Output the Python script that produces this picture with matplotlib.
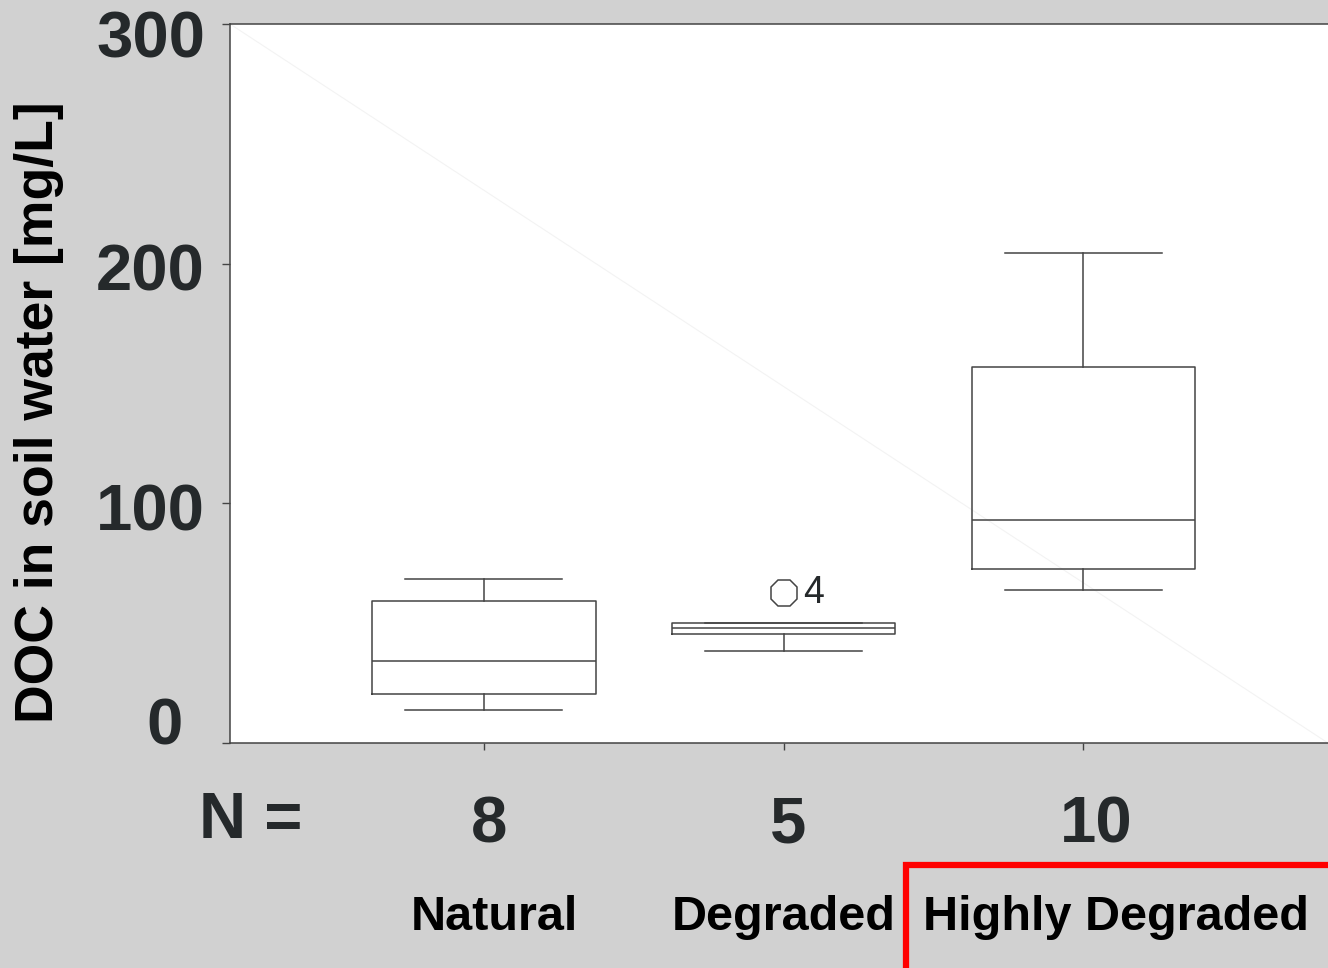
import matplotlib
matplotlib.use("Agg")
import matplotlib.pyplot as plt
import matplotlib.patches as mpatches
import matplotlib.transforms as mtransforms

# values (mg/L)
groups = ["Natural", "Degraded", "Highly Degraded"]
n_obs = ["8", "5", "10"]
whislo = [13.8, 38.5, 63.7]
q1 = [20.4, 45.5, 72.7]
medians = [34.2, 47.9, 93.2]
q3 = [59.1, 49.9, 156.9]
whishi = [68.3, 50.0, 204.4]
fliers = [[], [62.6], []]
flier_ids = ["", "4", ""]

BG = "#d1d1d1"
DARK = "#25292b"
FONT = ["Liberation Sans", "DejaVu Sans"]
plt.rcParams["font.family"] = FONT

fig = plt.figure(figsize=(13.28, 9.68), dpi=100, facecolor=BG)
ax = fig.add_axes([230 / 1328, 225 / 968, 1098 / 1328, 719 / 968])
ax.set_facecolor("white")

positions = [1, 2, 3]
stats = [dict(med=m, q1=a, q3=b, whislo=lo, whishi=hi, fliers=f)
         for m, a, b, lo, hi, f in zip(medians, q1, q3, whislo, whishi, fliers)]

line_kw = dict(color="#444444", linewidth=1.1)
ax.bxp(stats, positions=positions, widths=0.745, capwidths=0.524,
       boxprops=line_kw, whiskerprops=line_kw, capprops=line_kw,
       medianprops=line_kw,
       flierprops=dict(marker="8", markersize=21, markerfacecolor="white",
                       markeredgecolor="#444444", markeredgewidth=1.1))

# outlier case numbers
for pos, f, lab in zip(positions, fliers, flier_ids):
    for v in f:
        ax.text(pos + 0.065, v, lab, fontsize=27, color=DARK,
                ha="left", va="center")

# faint diagonal artefact
ax.plot([0, 1], [1, 0], transform=ax.transAxes, color="#f3f3f3",
        linewidth=0.8, zorder=0)

ax.set_xlim(0.1525, 3.8165)
ax.set_ylim(0, 300)
ax.set_yticks([0, 100, 200, 300])
ax.set_xticks(positions, n_obs)
for s in ["left", "top", "bottom"]:
    ax.spines[s].set_color("#444444")
    ax.spines[s].set_linewidth(1.1)
ax.spines["right"].set_visible(False)
ax.tick_params(axis="y", direction="out", length=6, width=1, color="#444444",
               pad=12, labelsize=47, labelcolor=DARK)
ax.tick_params(axis="x", direction="out", length=5, width=1, color="#444444",
               pad=33, labelsize=47, labelcolor=DARK)
for lab in ax.get_xticklabels() + ax.get_yticklabels():
    lab.set_fontweight("bold")

# nudge tick labels to where the original software put them (pixels)
y_shift = [(-22, 22), (0, -4), (0, -3), (0, -10)]
for lab, (dx, dy) in zip(ax.get_yticklabels(), y_shift):
    lab.set_transform(lab.get_transform() +
                      mtransforms.ScaledTranslation(dx / 100, dy / 100, fig.dpi_scale_trans))
x_shift = [5, 4, 13]
for lab, dx in zip(ax.get_xticklabels(), x_shift):
    lab.set_transform(lab.get_transform() +
                      mtransforms.ScaledTranslation(dx / 100, 0, fig.dpi_scale_trans))

fig.text(39 / 1328, 1 - 412 / 968, "DOC in soil water [mg/L]", rotation=90,
         ha="center", va="center", fontsize=38.5, fontweight="bold", color="black")
fig.text(251 / 1328, 1 - 821 / 968, "N =", ha="center", va="center",
         fontsize=47, fontweight="bold", color=DARK)

group_x = [494, 784, 1116]
for gx, g in zip(group_x, groups):
    fig.text(gx / 1328, 1 - 917 / 968, g, ha="center", va="center",
             fontsize=35, fontweight="bold", color="black")

fig.patches.append(mpatches.Rectangle((906 / 1328, -0.05), 0.5, 1 - 865 / 968 + 0.05,
                                      transform=fig.transFigure, fill=False,
                                      edgecolor="red", linewidth=4.5))

fig.savefig("out.png", dpi=100, facecolor=BG)
